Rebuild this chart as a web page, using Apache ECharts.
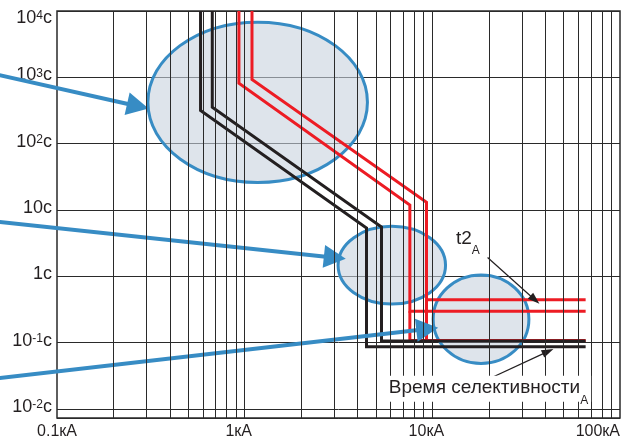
<!DOCTYPE html>
<html><head><meta charset="utf-8">
<script src="https://cdn.jsdelivr.net/npm/echarts@6/dist/echarts.min.js"></script>
<style>html,body{margin:0;padding:0;background:#fff}#c{width:624px;height:444px}</style>
</head><body><div id="c"></div>
<script>
// ---- axis ticks ----
const xTickValues = [0.1, 1, 10, 100];
const xTickLabels = ['0.1кА', '1кА', '10кА', '100кА'];
const xGridMultipliers = [2, 3, 4, 5, 6, 7, 8, 9];
const yTickExponents = [-2, -1, 0, 1, 2, 3, 4];
const yTickBase = ['10', '10', '1', '10', '10', '10', '10'];
const yTickSup = ['-2', '-1', '', '', '2', '3', '4'];
const yTickUnit = 'с';

// ---- curves [current kA, time s] ----
const blackCurveA = [[0.582, 10000], [0.582, 318], [4.46, 5.36], [4.46, 0.0873], [65.6, 0.0873]];
const blackCurveB = [[0.672, 10000], [0.672, 356], [5.36, 5.55], [5.36, 0.106], [65.6, 0.106]];
const redCurveA = [[0.932, 10000], [0.932, 813], [7.59, 11.9], [7.59, 0.298], [65.6, 0.298]];
const redCurveB = [[1.094, 10000], [1.094, 932], [9.31, 13.1], [9.31, 0.443], [65.6, 0.443]];
const redInstA = [[7.59, 0.298], [7.59, 0.108], [65.6, 0.108]];
const redInstB = [[9.31, 0.443], [9.31, 0.108]];

// ---- annotations (data space) ----
const ellipses = [[0.305, 4.51, 6780, 26.1], [3.146, 11.76, 5.68, 0.383], [10.1, 32.7, 1.05, 0.0487]];
const blueArrows = [[0.0494, 1081, 0.3076, 338], [0.0494, 6.59, 3.457, 1.845], [0.0494, 0.02944, 10.74, 0.168]];
const blackArrows = [[19.7, 1.93, 37.2, 0.3855], [19.05, 0.0268, 44.2, 0.0807]];
const noteT2 = [13.35, 5.18, 't2', 'A'];
const noteSel = [5.65, 0.0319, 'Время селективности', 'A'];

const FONT = '"Liberation Sans", Arial, sans-serif';
const INK = '#231f20';
const RED = '#ed1c24';
const BLUE = '#378cc4';
const GRIDC = '#2a2a2a';

const xGridValues = [];
[0.1, 1, 10].forEach(d => xGridMultipliers.forEach(m => xGridValues.push(+(d * m).toPrecision(3))));
xGridValues.push(1, 10);

function arrowRenderer(color, lw, hl, hw) {
  return function (params, api) {
    const p0 = api.coord([api.value(0), api.value(1)]);
    const p1 = api.coord([api.value(2), api.value(3)]);
    const dx = p1[0] - p0[0], dy = p1[1] - p0[1];
    const L = Math.hypot(dx, dy), ux = dx / L, uy = dy / L;
    const bx = p1[0] - ux * hl, by = p1[1] - uy * hl;
    return {
      type: 'group', children: [
        { type: 'line', shape: { x1: p0[0], y1: p0[1], x2: bx + ux * 2, y2: by + uy * 2 }, style: { stroke: color, lineWidth: lw } },
        { type: 'polygon', shape: { points: [[p1[0], p1[1]], [bx - uy * hw, by + ux * hw], [bx + uy * hw, by - ux * hw]] }, style: { fill: color } }
      ]
    };
  };
}

function noteRenderer(withBg) {
  return function (params, api) {
    const p = api.coord([api.value(0), api.value(1)]);
    const base = api.value(2), sub = api.value(3);
    return {
      type: 'text', x: p[0], y: p[1],
      style: {
        text: '{m|' + base + '}{s|' + sub + '}',
        align: 'left', verticalAlign: 'top',
        backgroundColor: withBg ? '#fff' : null,
        padding: withBg ? [3, 3, 1, 3] : 0,
        rich: {
          m: { fontSize: 19, lineHeight: 22, verticalAlign: 'top', fill: INK, fontFamily: FONT },
          s: { fontSize: 12, lineHeight: 12, verticalAlign: 'top', padding: [16, 0, 0, 0], fill: INK, fontFamily: FONT }
        }
      }
    };
  };
}

function curve(data, color, z) {
  return { type: 'line', data: data, showSymbol: false, symbol: 'none', z: z, silent: true,
    lineStyle: { color: color, width: 3, join: 'miter' } };
}

const chart = echarts.init(document.getElementById('c'), null, { renderer: 'canvas' });
chart.setOption({
  animation: false,
  backgroundColor: '#fff',
  grid: { left: 57, right: 4, top: 7, bottom: 26, show: true, borderColor: GRIDC, borderWidth: 1.5 },
  xAxis: {
    type: 'log', logBase: 10, min: 0.1, max: 100,
    axisLine: { show: false }, axisTick: { show: false }, splitLine: { show: false },
    axisLabel: {
      fontSize: 16, color: INK, fontFamily: FONT, margin: 6,
      showMinLabel: true, showMaxLabel: true, alignMaxLabel: 'right', hideOverlap: false,
      formatter: function (v) {
        const i = xTickValues.findIndex(t => Math.abs(Math.log10(t) - Math.log10(v)) < 1e-4);
        if (i < 0) return '';
        if (i === 1 || i === 2) return '{sh|' + xTickLabels[i] + '}';
        return xTickLabels[i];
      },
      rich: { sh: { fontSize: 16, color: INK, fontFamily: FONT, padding: [0, 12, 0, 0] } }
    }
  },
  yAxis: {
    type: 'log', logBase: 10, min: 0.00734, max: 10000,
    axisLine: { show: false }, axisTick: { show: false },
    splitLine: { show: true, lineStyle: { color: GRIDC, width: 1 } },
    axisLabel: {
      color: INK, fontFamily: FONT, margin: 5, showMinLabel: true, showMaxLabel: true, hideOverlap: false,
      formatter: function (v) {
        const e = Math.log10(v), k = Math.round(e);
        if (Math.abs(e - k) > 1e-3) return '';
        const i = yTickExponents.indexOf(k);
        if (i < 0) return '';
        const top = i === yTickExponents.length - 1;
        const b = top ? 'bt' : 'b', p = top ? 'pt' : 'p';
        return '{' + b + '|' + yTickBase[i] + '}' + (yTickSup[i] ? '{' + p + '|' + yTickSup[i] + '}' : '') + '{' + b + '|' + yTickUnit + '}';
      },
      rich: {
        b: { fontSize: 18, lineHeight: 22, verticalAlign: 'top', color: INK, fontFamily: FONT },
        p: { fontSize: 12, lineHeight: 12, verticalAlign: 'top', padding: [1, 0, 0, 0], color: INK, fontFamily: FONT },
        bt: { fontSize: 18, lineHeight: 22, verticalAlign: 'top', padding: [9, 0, 0, 0], color: INK, fontFamily: FONT },
        pt: { fontSize: 12, lineHeight: 12, verticalAlign: 'top', padding: [10, 0, 0, 0], color: INK, fontFamily: FONT }
      }
    }
  },
  series: [
    { type: 'line', data: [], z: 1, silent: true,
      markLine: { silent: true, symbol: ['none', 'none'], label: { show: false }, animation: false,
        lineStyle: { color: GRIDC, width: 1, type: 'solid' },
        data: xGridValues.map(v => ({ xAxis: v })) } },
    { type: 'custom', z: 2, silent: true, data: ellipses, encode: { x: [0, 1], y: [2, 3] },
      renderItem: function (params, api) {
        const a = api.coord([api.value(0), api.value(2)]);
        const b = api.coord([api.value(1), api.value(3)]);
        return { type: 'ellipse',
          shape: { cx: (a[0] + b[0]) / 2, cy: (a[1] + b[1]) / 2, rx: Math.abs(b[0] - a[0]) / 2, ry: Math.abs(b[1] - a[1]) / 2 },
          style: { fill: 'rgba(200,210,222,0.6)', stroke: BLUE, lineWidth: 3 } };
      } },
    curve(redCurveA, RED, 3), curve(redCurveB, RED, 3), curve(redInstA, RED, 3), curve(redInstB, RED, 3),
    curve(blackCurveA, INK, 3.5), curve(blackCurveB, INK, 3.5),
    { type: 'custom', z: 4, silent: true, data: blueArrows, encode: { x: [0, 2], y: [1, 3] }, renderItem: arrowRenderer(BLUE, 4, 22, 11.5) },
    { type: 'custom', z: 4, silent: true, data: blackArrows, encode: { x: [0, 2], y: [1, 3] }, renderItem: arrowRenderer(INK, 1.2, 12, 4) },
    { type: 'custom', z: 5, silent: true, data: [noteT2], encode: { x: 0, y: 1 }, renderItem: noteRenderer(false) },
    { type: 'custom', z: 5, silent: true, data: [noteSel], encode: { x: 0, y: 1 }, renderItem: noteRenderer(true) }
  ]
});
</script>
</body></html>
